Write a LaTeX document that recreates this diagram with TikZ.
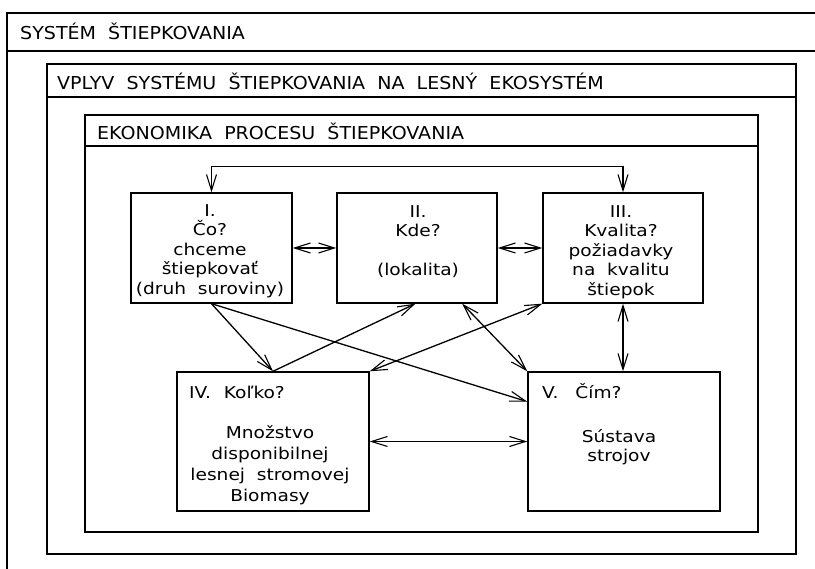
\documentclass[tikz,border=0pt]{standalone}
\usepackage{fontspec}
\setmainfont{DejaVu Sans}
\newfontfamily\hdrfont[FakeStretch=1.07,WordSpace=2]{DejaVu Sans}
\newfontfamily\boxfont[FakeStretch=1.14,WordSpace=2]{DejaVu Sans}
\usetikzlibrary{arrows.meta,calc}
\begin{document}
\begin{tikzpicture}[x=1pt,y=-1pt,
  frame/.style={line width=1.4pt},
  box/.style={draw,line width=1.4pt,inner sep=0pt},
  hdr/.style={anchor=base west,inner sep=0pt,font=\hdrfont\fontsize{17.8}{21}\selectfont},
  btxt/.style={inner sep=0pt,align=center,font=\boxfont\fontsize{16.3}{19.5}\selectfont},
  btxtb/.style={inner sep=0pt,align=center,font=\boxfont\fontsize{16.3}{21}\selectfont},
  bhead/.style={inner sep=0pt,anchor=base west,font=\boxfont\fontsize{16.3}{19.5}\selectfont},
  conn/.style={line width=1.3pt},
  tip/.tip={Straight Barb[length=16pt,width=10pt,line width=1.1pt]},
  one/.style={conn,-tip},
  two/.style={conn,tip-tip}]
\useasboundingbox (0,0) rectangle (815,569);
% outer frame (cut off at right and bottom)
\draw[frame] (7,569) -- (7,13) -- (815,13);
\draw[frame] (7,51) -- (815,51);
\node[hdr] (h1) at (20,39.5) {SYSTÉM ŠTIEPKOVANIA};
% second frame
\draw[frame] (47,64) rectangle (796,554);
\draw[frame] (47,97) -- (796,97);
\node[hdr] (h2) at (57,89.3) {VPLYV SYSTÉMU ŠTIEPKOVANIA NA LESNÝ EKOSYSTÉM};
% third frame
\draw[frame] (85,115) rectangle (758,532);
\draw[frame] (85,146) -- (758,146);
\node[hdr] (h3) at (97,140) {EKONOMIKA PROCESU ŠTIEPKOVANIA};
% boxes
\node[box,minimum width=161pt,minimum height=110pt] (b1) at (211.5,248) {};
\node[box,minimum width=160pt,minimum height=110pt] (b2) at (417,248) {};
\node[box,minimum width=160pt,minimum height=110pt] (b3) at (623,248) {};
\node[box,minimum width=192pt,minimum height=139pt] (b4) at (273,441.5) {};
\node[box,minimum width=192pt,minimum height=139pt] (b5) at (624,441.5) {};
% box texts
\node[btxt] (t1) at (210,251.2) {I.\\Čo?\\chceme\\štiepkovať\\(druh suroviny)};
\node[btxt] (t2) at (418,241.5) {II.\\Kde?\\[19.5pt](lokalita)};
\node[btxt] (t3) at (621,252) {III.\\Kvalita?\\požiadavky\\na kvalitu\\štiepok};
\node[bhead] (t4a) at (189,398.9) {IV.\hspace{13pt}Koľko?};
\node[btxtb] (t4b) at (270,465.3) {Množstvo\\disponibilnej\\lesnej stromovej\\Biomasy};
\node[bhead] (t5a) at (542,398.9) {V.\hspace{17pt}Čím?};
\node[btxt,font=\boxfont\fontsize{16.3}{19.3}\selectfont] (t5b) at (619,447.2) {Sústava\\strojov};
% connectors
\draw[two] (b1.north) -- ++(0,-26) -| (b3.north);
\draw[two] (b1.east) -- (b2.west);
\draw[two] (b2.east) -- (b3.west);
\draw[two] (b3.south) -- (b3.south |- b5.north);
\draw[two] (b4.east) -- (b5.west);
\draw[one] (b1.south) -- (b4.north);
\draw[one] (b1.south) -- ($(b5.north west)!0.216!(b5.south west)$);
\draw[one] (b4.north) -- ($(b2.south west)!0.49!(b2.south east)$);
\draw[two] (b4.north east) -- (b3.south west);
\draw[two] ($(b2.south west)!0.78!(b2.south east)$) -- (b5.north west);
\end{tikzpicture}
\end{document}
